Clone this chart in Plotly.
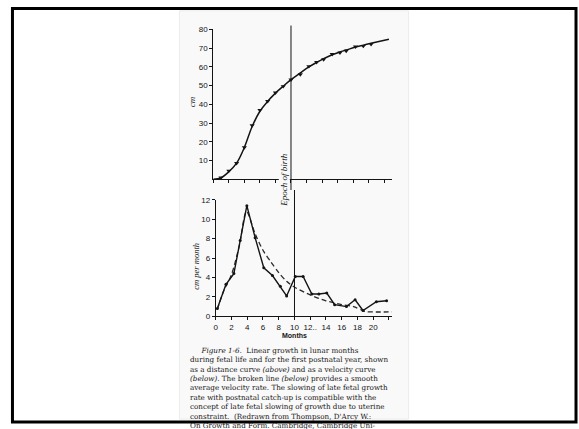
import plotly.graph_objects as go

W, H = 579, 429

# ---------------- data ----------------
# distance curve (cm) vs months (lunar months prenatal 0-10, postnatal after)
dist_months = [0, 1, 2, 3, 4, 5, 6, 7, 8, 9, 10, 11.2, 12.3, 13.3, 14.2, 15.3, 16.3, 17.1, 18.3, 19.3, 20.3, 22.6]
dist_cm = [0, 0.8, 4.0, 8.6, 17.0, 28.2, 36.3, 41.6, 46.0, 49.7, 53.2, 56.8, 60.0, 62.4, 64.4, 66.5, 68.0, 69.0, 70.6, 71.6, 72.6, 74.8]
dist_mark_months = [1, 2, 3, 4, 5, 6, 7, 8, 9, 10, 11.2, 12.3, 13.3, 14.2, 15.3, 16.3, 17.1, 18.3, 19.3, 20.3]
dist_mark_cm = [0.8, 4.5, 8.6, 17.0, 28.7, 36.9, 41.7, 46.2, 49.6, 53.2, 56.0, 60.3, 62.5, 64.0, 66.8, 67.6, 68.5, 70.8, 71.1, 72.1]

# velocity curve (cm per month)
vel_months = [0.2, 1.3, 2.3, 3.1, 3.95, 5.0, 6.1, 7.2, 8.2, 9.0, 10.1, 11.1, 12.2, 13.1, 14.1, 15.1, 16.6, 17.7, 18.7, 20.4, 21.7]
vel_cm = [0.8, 3.3, 4.4, 7.8, 11.4, 8.1, 5.0, 4.2, 3.1, 2.1, 4.1, 4.1, 2.3, 2.3, 2.4, 1.2, 1.0, 1.7, 0.6, 1.5, 1.6]

# smooth average velocity (broken line)
avg_months = [0.2, 1, 2, 3, 3.9, 5, 6, 7, 8, 9, 10, 12, 14, 16, 17.5, 19, 20, 22.4]
avg_cm = [0.7, 2.6, 4.3, 7.3, 10.8, 8.5, 6.8, 5.6, 4.5, 3.6, 3.0, 2.2, 1.6, 1.2, 1.0, 0.5, 0.45, 0.45]

birth_month = 10

upper_ticks = [10, 20, 30, 40, 50, 60, 70, 80]
upper_xticks = [0, 2, 4, 6, 8, 10, 12, 14, 16, 18, 20, 22]
lower_yticks = [0, 2, 4, 6, 8, 10, 12]
lower_xticks = [0, 2, 4, 6, 8, 10, 12, 14, 16, 18, 20, 22]
lower_xlabels = ["0", "2", "4", "6", "8", "10", "12..", "14", "16", "18", "20", ""]

caption_lines = [
    "\u00a0\u00a0\u00a0\u00a0\u00a0<i>Figure 1-6.</i>  Linear growth in lunar months",
    "during fetal life and for the first postnatal year, shown",
    "as a distance curve <i>(above)</i> and as a velocity curve",
    "<i>(below)</i>. The broken line <i>(below)</i> provides a smooth",
    "average velocity rate. The slowing of late fetal growth",
    "rate with postnatal catch-up is compatible with the",
    "concept of late fetal slowing of growth due to uterine",
    "constraint.  (Redrawn from Thompson, D'Arcy W.:",
    "On Growth and Form. Cambridge, Cambridge Uni-",
]

# ---------------- helpers (pixel -> paper) ----------------
def px(x):
    return x / W

def py(y):
    return 1 - y / H

PAGE = "#f9f9f9"
INK = "#141414"
tickfont = dict(family="Liberation Sans", size=8, color=INK)

fig = go.Figure()

# upper: distance curve
fig.add_trace(go.Scatter(x=dist_months, y=dist_cm, mode="lines",
                         line=dict(color=INK, width=1.5, shape="spline", smoothing=1.0),
                         xaxis="x", yaxis="y", hoverinfo="skip"))
fig.add_trace(go.Scatter(x=dist_mark_months, y=dist_mark_cm, mode="markers",
                         marker=dict(symbol="triangle-down", size=4.5, color=INK),
                         xaxis="x", yaxis="y", hoverinfo="skip"))

# lower: velocity curves
fig.add_trace(go.Scatter(x=avg_months, y=avg_cm, mode="lines",
                         line=dict(color="#2a2a2a", width=1.3, dash="5px,3px", shape="spline", smoothing=0.8),
                         xaxis="x2", yaxis="y2", hoverinfo="skip"))
fig.add_trace(go.Scatter(x=vel_months, y=vel_cm, mode="lines+markers",
                         line=dict(color=INK, width=1.4),
                         marker=dict(size=3, color=INK),
                         xaxis="x2", yaxis="y2", hoverinfo="skip"))

axis_common = dict(showline=True, linecolor=INK, linewidth=1, ticks="outside",
                   ticklen=3, tickwidth=1, tickcolor=INK, showgrid=False,
                   zeroline=False, tickfont=tickfont)

fig.update_layout(
    width=W, height=H,
    margin=dict(l=0, r=0, t=0, b=0),
    paper_bgcolor="white", plot_bgcolor="rgba(0,0,0,0)",
    showlegend=False,
    xaxis=dict(domain=[px(212), px(212 + 23 * 7.8)], range=[0, 23],
               tickvals=upper_xticks, showticklabels=False,
               anchor="y", **axis_common),
    yaxis=dict(domain=[py(179), py(26)], range=[0, 80], tickvals=upper_ticks,
               anchor="x", **axis_common),
    xaxis2=dict(domain=[px(214.5), px(214.5 + 22.4 * 7.9)], range=[0, 22.4],
                tickvals=lower_xticks, ticktext=lower_xlabels,
                anchor="y2", **axis_common),
    yaxis2=dict(domain=[py(319), py(200)], range=[0, 12], tickvals=lower_yticks,
                anchor="x2", **axis_common),
)

shapes = []
# scanned page
shapes.append(dict(type="rect", xref="paper", yref="paper",
                   x0=px(178), x1=px(408), y0=py(424), y1=py(7),
                   fillcolor=PAGE, line=dict(color="#ececec", width=1), layer="below"))
# epoch of birth line: upper panel part and lower panel part
shapes.append(dict(type="line", xref="x", yref="paper",
                   x0=birth_month, x1=birth_month, y0=py(190), y1=py(22),
                   line=dict(color=INK, width=1)))
shapes.append(dict(type="line", xref="x2", yref="paper",
                   x0=birth_month, x1=birth_month, y0=py(319), y1=py(190),
                   line=dict(color=INK, width=1)))
# slide frame
shapes.append(dict(type="rect", xref="paper", yref="paper",
                   x0=px(10.5), x1=px(576), y0=py(427), y1=py(4.7),
                   fillcolor="rgba(0,0,0,0)", line=dict(color="black", width=3)))
fig.update_layout(shapes=shapes)

ann = []
def note(text, x, y, size=8, family="Liberation Serif", angle=0, xa="center", ya="middle", **kw):
    ann.append(dict(text=text, x=px(x), y=py(y), xref="paper", yref="paper",
                    textangle=angle, showarrow=False, xanchor=xa, yanchor=ya,
                    font=dict(family=family, size=size, color=INK), **kw))

note("<i>Epoch of birth</i>", 283.5, 180, size=9, angle=-90, bgcolor=PAGE, borderpad=0)
note("<i>cm</i>", 191, 100, size=9, angle=-90)
note("<i>cm per month</i>", 195, 268, size=8.5, angle=-90)
note("<b>Months</b>", 294, 339, size=7, family="Liberation Sans")

# caption as one text block
note("<br>".join(caption_lines), 187, 347, size=7.2, family="DejaVu Serif",
     xa="left", ya="top", align="left")
fig.update_layout(annotations=ann)

fig.write_html("out.html")
